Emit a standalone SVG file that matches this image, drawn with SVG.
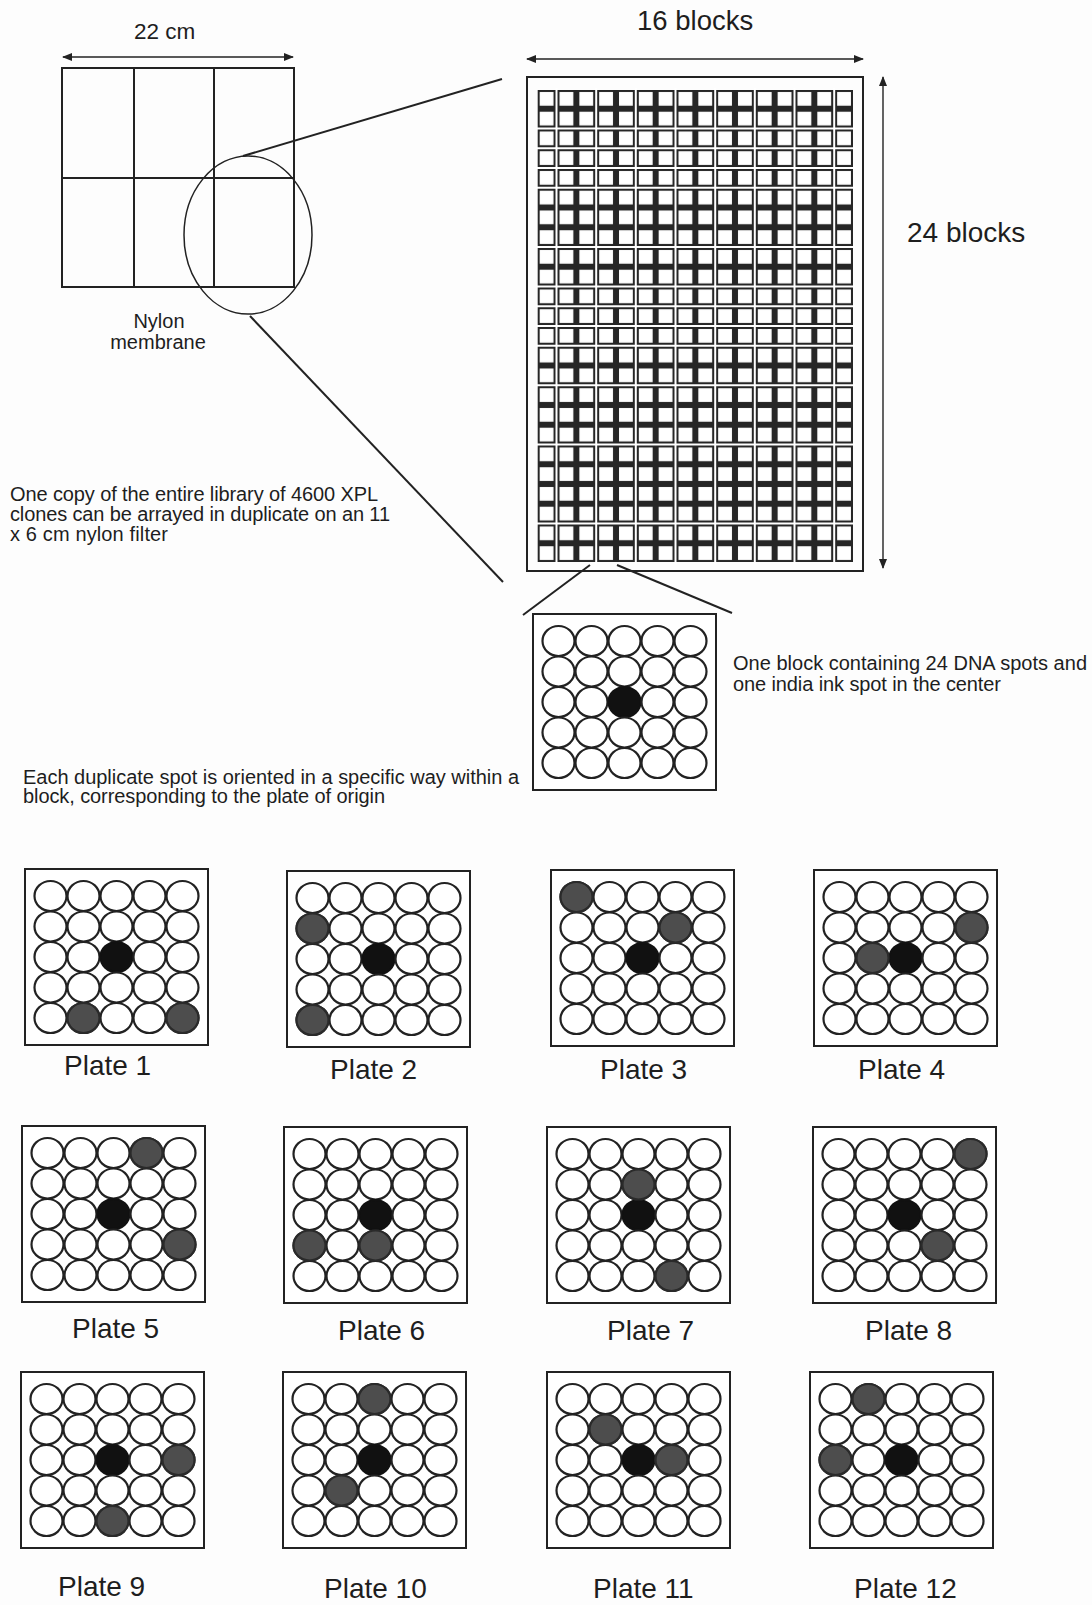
<svg xmlns="http://www.w3.org/2000/svg" width="1092" height="1605" viewBox="0 0 1092 1605">
<style>
  .ln { stroke:#222; fill:none; }
  .t { font-family:"Liberation Sans", Arial, Helvetica, sans-serif; fill:#1e1e1e; }
  .lbl { font-family:"Liberation Sans", Arial, Helvetica, sans-serif; fill:#1e1e1e; font-size:28px; }
  .spot { fill:#fff; stroke:#222; stroke-width:2.2; }
  .ink { fill:#111; stroke:#111; stroke-width:2.2; }
  .dup { fill:#4d4d4d; stroke:#2a2a2a; stroke-width:2.2; }
  .box { fill:#fff; stroke:#222; stroke-width:2; }
</style>
<defs>
  <marker id="ah" viewBox="0 0 10 8" refX="9" refY="4" markerWidth="10" markerHeight="8" markerUnits="userSpaceOnUse" orient="auto-start-reverse">
    <path d="M0,0 L10,4 L0,8 z" fill="#222"/>
  </marker>
  <pattern id="cells" patternUnits="userSpaceOnUse" x="536.7" y="89" width="19.83" height="19.75">
    <rect x="3" y="3" width="13.8" height="13.7" fill="#fff"/>
  </pattern>
  <g id="block">
    <rect class="box" x="0" y="0" width="183" height="176"/>
    <ellipse class="spot" cx="25.5" cy="27" rx="16" ry="15"/>
    <ellipse class="spot" cx="58.5" cy="27" rx="16" ry="15"/>
    <ellipse class="spot" cx="91.5" cy="27" rx="16" ry="15"/>
    <ellipse class="spot" cx="124.5" cy="27" rx="16" ry="15"/>
    <ellipse class="spot" cx="157.5" cy="27" rx="16" ry="15"/>
    <ellipse class="spot" cx="25.5" cy="57.5" rx="16" ry="15"/>
    <ellipse class="spot" cx="58.5" cy="57.5" rx="16" ry="15"/>
    <ellipse class="spot" cx="91.5" cy="57.5" rx="16" ry="15"/>
    <ellipse class="spot" cx="124.5" cy="57.5" rx="16" ry="15"/>
    <ellipse class="spot" cx="157.5" cy="57.5" rx="16" ry="15"/>
    <ellipse class="spot" cx="25.5" cy="88" rx="16" ry="15"/>
    <ellipse class="spot" cx="58.5" cy="88" rx="16" ry="15"/>
    <ellipse class="ink" cx="91.5" cy="88" rx="16" ry="15"/>
    <ellipse class="spot" cx="124.5" cy="88" rx="16" ry="15"/>
    <ellipse class="spot" cx="157.5" cy="88" rx="16" ry="15"/>
    <ellipse class="spot" cx="25.5" cy="118.5" rx="16" ry="15"/>
    <ellipse class="spot" cx="58.5" cy="118.5" rx="16" ry="15"/>
    <ellipse class="spot" cx="91.5" cy="118.5" rx="16" ry="15"/>
    <ellipse class="spot" cx="124.5" cy="118.5" rx="16" ry="15"/>
    <ellipse class="spot" cx="157.5" cy="118.5" rx="16" ry="15"/>
    <ellipse class="spot" cx="25.5" cy="149" rx="16" ry="15"/>
    <ellipse class="spot" cx="58.5" cy="149" rx="16" ry="15"/>
    <ellipse class="spot" cx="91.5" cy="149" rx="16" ry="15"/>
    <ellipse class="spot" cx="124.5" cy="149" rx="16" ry="15"/>
    <ellipse class="spot" cx="157.5" cy="149" rx="16" ry="15"/>
  </g>
</defs>
<rect x="0" y="0" width="1092" height="1605" fill="#fdfdfd"/>

<!-- Nylon membrane -->
<g id="membrane">
  <rect class="ln" x="62" y="68" width="232" height="219" stroke-width="2"/>
  <line class="ln" x1="134" y1="68" x2="134" y2="287" stroke-width="2"/>
  <line class="ln" x1="214" y1="68" x2="214" y2="287" stroke-width="2"/>
  <line class="ln" x1="62" y1="178" x2="294" y2="178" stroke-width="2"/>
  <text class="t" x="159" y="328" font-size="20" text-anchor="middle">Nylon</text>
  <text class="t" x="158" y="349" font-size="20" text-anchor="middle">membrane</text>
</g>
<g id="magnifier">
  <ellipse class="ln" cx="248" cy="235" rx="64" ry="79" stroke-width="1.5"/>
</g>

<!-- Filter grid -->
<g id="filter">
  <rect class="ln" x="527" y="77" width="336" height="494" stroke-width="2"/>
  <rect x="537.7" y="90" width="315.3" height="472" fill="#262626"/>
  <g stroke="#fff" stroke-width="2">
    <line x1="556.5" y1="88" x2="556.5" y2="564"/>
    <line x1="596.2" y1="88" x2="596.2" y2="564"/>
    <line x1="635.8" y1="88" x2="635.8" y2="564"/>
    <line x1="675.5" y1="88" x2="675.5" y2="564"/>
    <line x1="715.2" y1="88" x2="715.2" y2="564"/>
    <line x1="754.8" y1="88" x2="754.8" y2="564"/>
    <line x1="794.5" y1="88" x2="794.5" y2="564"/>
    <line x1="834.2" y1="88" x2="834.2" y2="564"/>
    <line x1="536" y1="128.5" x2="855" y2="128.5"/>
    <line x1="536" y1="148.25" x2="855" y2="148.25"/>
    <line x1="536" y1="168" x2="855" y2="168"/>
    <line x1="536" y1="187.75" x2="855" y2="187.75"/>
    <line x1="536" y1="247" x2="855" y2="247"/>
    <line x1="536" y1="286.5" x2="855" y2="286.5"/>
    <line x1="536" y1="306.25" x2="855" y2="306.25"/>
    <line x1="536" y1="326" x2="855" y2="326"/>
    <line x1="536" y1="345.75" x2="855" y2="345.75"/>
    <line x1="536" y1="385.25" x2="855" y2="385.25"/>
    <line x1="536" y1="444.5" x2="855" y2="444.5"/>
    <line x1="536" y1="523.5" x2="855" y2="523.5"/>
  </g>
  <rect x="536.7" y="89" width="317.3" height="474" fill="url(#cells)"/>
  <text class="t" x="637" y="30" font-size="27.5">16 blocks</text>
  <text class="t" x="907" y="242" font-size="28">24 blocks</text>
</g>

<!-- Dimension arrows -->
<g id="dimensions" class="ln" stroke-width="1.4">
  <line x1="63" y1="57" x2="293" y2="57" marker-start="url(#ah)" marker-end="url(#ah)"/>
  <line x1="527" y1="59" x2="863" y2="59" marker-start="url(#ah)" marker-end="url(#ah)"/>
  <line x1="883" y1="77" x2="883" y2="568" marker-start="url(#ah)" marker-end="url(#ah)"/>
</g>
<text class="t" x="134" y="39" font-size="22.5">22 cm</text>

<!-- Connectors -->
<g id="connectors" class="ln" stroke-width="2">
  <line x1="243" y1="156" x2="502" y2="79"/>
  <line x1="250" y1="316" x2="503" y2="582"/>
  <line x1="590" y1="565" x2="523" y2="615"/>
  <line x1="617" y1="565" x2="732" y2="613"/>
</g>

<!-- Enlarged block -->
<g id="block-detail" transform="translate(533,614)">
  <use href="#block"/>
</g>

<!-- Captions -->
<g id="captions" class="t" font-size="20">
  <text x="10" y="501" textLength="368">One copy of the entire library of 4600 XPL</text>
  <text x="10" y="521" textLength="380">clones can be arrayed in duplicate on an 11</text>
  <text x="10" y="541" textLength="158">x 6 cm nylon filter</text>
  <text x="733" y="670" textLength="354">One block containing 24 DNA spots and</text>
  <text x="733" y="691" textLength="268">one india ink spot in the center</text>
  <text x="23" y="784" textLength="496">Each duplicate spot is oriented in a specific way within a</text>
  <text x="23" y="803" textLength="362">block, corresponding to the plate of origin</text>
</g>

<!-- Plates -->
<g id="plate-1" transform="translate(25,869)">
  <use href="#block"/>
  <ellipse class="dup" cx="58.5" cy="149" rx="16" ry="15"/>
  <ellipse class="dup" cx="157.5" cy="149" rx="16" ry="15"/>
</g>
<g id="plate-2" transform="translate(287,871)">
  <use href="#block"/>
  <ellipse class="dup" cx="25.5" cy="57.5" rx="16" ry="15"/>
  <ellipse class="dup" cx="25.5" cy="149" rx="16" ry="15"/>
</g>
<g id="plate-3" transform="translate(551,870)">
  <use href="#block"/>
  <ellipse class="dup" cx="25.5" cy="27" rx="16" ry="15"/>
  <ellipse class="dup" cx="124.5" cy="57.5" rx="16" ry="15"/>
</g>
<g id="plate-4" transform="translate(814,870)">
  <use href="#block"/>
  <ellipse class="dup" cx="157.5" cy="57.5" rx="16" ry="15"/>
  <ellipse class="dup" cx="58.5" cy="88" rx="16" ry="15"/>
</g>
<g id="plate-5" transform="translate(22,1126)">
  <use href="#block"/>
  <ellipse class="dup" cx="124.5" cy="27" rx="16" ry="15"/>
  <ellipse class="dup" cx="157.5" cy="118.5" rx="16" ry="15"/>
</g>
<g id="plate-6" transform="translate(284,1127)">
  <use href="#block"/>
  <ellipse class="dup" cx="25.5" cy="118.5" rx="16" ry="15"/>
  <ellipse class="dup" cx="91.5" cy="118.5" rx="16" ry="15"/>
</g>
<g id="plate-7" transform="translate(547,1127)">
  <use href="#block"/>
  <ellipse class="dup" cx="91.5" cy="57.5" rx="16" ry="15"/>
  <ellipse class="dup" cx="124.5" cy="149" rx="16" ry="15"/>
</g>
<g id="plate-8" transform="translate(813,1127)">
  <use href="#block"/>
  <ellipse class="dup" cx="157.5" cy="27" rx="16" ry="15"/>
  <ellipse class="dup" cx="124.5" cy="118.5" rx="16" ry="15"/>
</g>
<g id="plate-9" transform="translate(21,1372)">
  <use href="#block"/>
  <ellipse class="dup" cx="157.5" cy="88" rx="16" ry="15"/>
  <ellipse class="dup" cx="91.5" cy="149" rx="16" ry="15"/>
</g>
<g id="plate-10" transform="translate(283,1372)">
  <use href="#block"/>
  <ellipse class="dup" cx="91.5" cy="27" rx="16" ry="15"/>
  <ellipse class="dup" cx="58.5" cy="118.5" rx="16" ry="15"/>
</g>
<g id="plate-11" transform="translate(547,1372)">
  <use href="#block"/>
  <ellipse class="dup" cx="58.5" cy="57.5" rx="16" ry="15"/>
  <ellipse class="dup" cx="124.5" cy="88" rx="16" ry="15"/>
</g>
<g id="plate-12" transform="translate(810,1372)">
  <use href="#block"/>
  <ellipse class="dup" cx="58.5" cy="27" rx="16" ry="15"/>
  <ellipse class="dup" cx="25.5" cy="88" rx="16" ry="15"/>
</g>

<g id="plate-labels">
  <text class="lbl" x="64" y="1075">Plate 1</text>
  <text class="lbl" x="330" y="1079">Plate 2</text>
  <text class="lbl" x="600" y="1079">Plate 3</text>
  <text class="lbl" x="858" y="1079">Plate 4</text>
  <text class="lbl" x="72" y="1338">Plate 5</text>
  <text class="lbl" x="338" y="1340">Plate 6</text>
  <text class="lbl" x="607" y="1340">Plate 7</text>
  <text class="lbl" x="865" y="1340">Plate 8</text>
  <text class="lbl" x="58" y="1596">Plate 9</text>
  <text class="lbl" x="324" y="1598">Plate 10</text>
  <text class="lbl" x="593" y="1598">Plate 11</text>
  <text class="lbl" x="854" y="1598">Plate 12</text>
</g>
</svg>
